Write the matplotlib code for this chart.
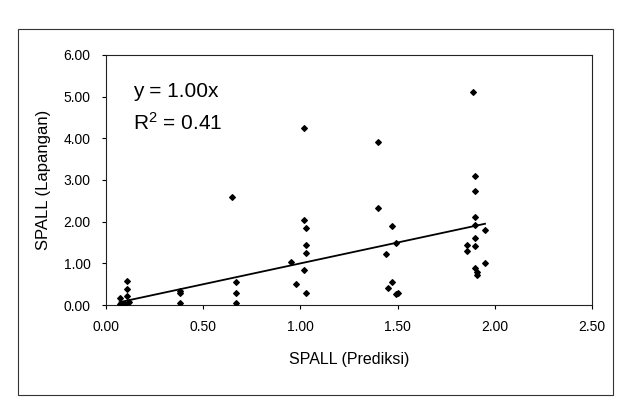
import matplotlib.pyplot as plt
from matplotlib.patches import Rectangle
from matplotlib.ticker import FormatStrFormatter

plt.rcParams['font.family'] = ['Liberation Sans', 'DejaVu Sans']

# SPALL predicted (x) vs field observed (y)
spall_prediksi = [0.11, 0.11, 0.11, 0.07, 0.12, 0.07, 0.09, 0.10,
                  0.38, 0.38, 0.38,
                  0.67, 0.67, 0.67, 0.65,
                  1.02, 1.02, 1.03, 1.03, 1.03, 1.02, 1.03, 0.98, 0.95,
                  1.40, 1.40, 1.47, 1.44, 1.49, 1.45, 1.47, 1.49, 1.50,
                  1.89, 1.90, 1.90, 1.90, 1.90, 1.95, 1.90, 1.90, 1.86, 1.86,
                  1.90, 1.91, 1.91, 1.95]
spall_lapangan = [0.57, 0.38, 0.21, 0.17, 0.07, 0.02, 0.02, 0.02,
                  0.33, 0.29, 0.04,
                  0.55, 0.30, 0.06, 2.60,
                  4.25, 2.05, 1.85, 1.45, 1.25, 0.85, 0.30, 0.50, 1.03,
                  3.90, 2.33, 1.90, 1.23, 1.50, 0.42, 0.55, 0.26, 0.30,
                  5.10, 3.10, 2.73, 2.12, 1.92, 1.80, 1.60, 1.42, 1.45, 1.30,
                  0.90, 0.80, 0.72, 1.02]
slope = 1.00
r_squared = 0.41

x_ticks = [0.0, 0.5, 1.0, 1.5, 2.0, 2.5]
y_ticks = [0, 1, 2, 3, 4, 5, 6]

fig = plt.figure(figsize=(6.27, 4.09), dpi=100)
fig.patch.set_facecolor('white')

# outer chart border
fig.patches.append(Rectangle((0.029, 0.035), 0.948, 0.895, transform=fig.transFigure,
                             fill=False, edgecolor='#333333', linewidth=0.8))

ax = fig.add_axes([0.169, 0.254, 0.775, 0.612])
ax.scatter(spall_prediksi, spall_lapangan, marker='D', s=8, color='black', zorder=3)

x_line = [min(spall_prediksi), max(spall_prediksi)]
ax.plot(x_line, [slope * v for v in x_line], color='black', linewidth=1.3)

ax.set_xlim(0, 2.5)
ax.set_ylim(0, 6)
ax.set_xticks(x_ticks)
ax.set_yticks(y_ticks)
ax.xaxis.set_major_formatter(FormatStrFormatter('%.2f'))
ax.yaxis.set_major_formatter(FormatStrFormatter('%.2f'))
ax.tick_params(labelsize=10, length=3, width=0.8, direction='out', pad=8)
for s in ax.spines.values():
    s.set_linewidth(0.8)
    s.set_color('#222222')

ax.set_xlabel('SPALL (Prediksi)', fontsize=11.5, labelpad=13)
ax.set_ylabel('SPALL (Lapangan)', fontsize=12, labelpad=9)

ax.text(0.055, 0.83, 'y = %.2fx' % slope, transform=ax.transAxes, fontsize=15)
ax.text(0.055, 0.70, '$\\mathregular{R^2}$ = %.2f' % r_squared, transform=ax.transAxes, fontsize=15)

fig.savefig('out.png', dpi=100)
